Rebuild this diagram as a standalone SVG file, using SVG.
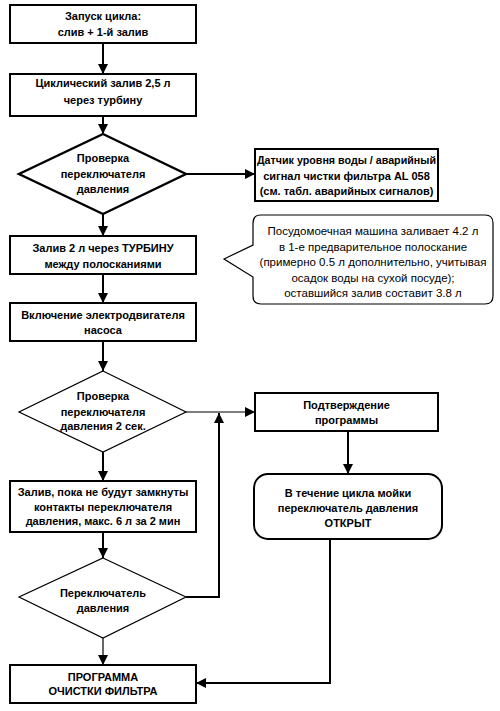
<svg xmlns="http://www.w3.org/2000/svg" width="500" height="711" viewBox="0 0 500 711">
<defs>
<marker id="ah" markerWidth="10" markerHeight="10" refX="10" refY="5" orient="auto" markerUnits="userSpaceOnUse">
<path d="M0,0 L10,5 L0,10 Z" fill="#000"/>
</marker>
<style>
.box{fill:#fff;stroke:#000;stroke-width:2}
.thin{fill:#fff;stroke:#000;stroke-width:1.2}
.thick{fill:#fff;stroke:#000;stroke-width:2.4}
.t{font-family:"Liberation Sans",Arial,sans-serif;font-size:11px;font-weight:bold;text-anchor:middle;fill:#000}
.r{font-family:"Liberation Sans",Arial,sans-serif;font-size:11.5px;text-anchor:middle;fill:#000}
.c{fill:none;stroke:#000;stroke-width:2}
.c1{fill:none;stroke:#000;stroke-width:1.2}
</style>
</defs>
<rect width="500" height="711" fill="#fff"/>
<g id="connectors">
<line class="c" x1="103" y1="43" x2="103" y2="74" marker-end="url(#ah)"/>
<line class="c" x1="103" y1="116" x2="103" y2="134" marker-end="url(#ah)"/>
<line class="c" x1="186" y1="174" x2="255" y2="174" marker-end="url(#ah)"/>
<line class="c" x1="103" y1="214" x2="103" y2="236" marker-end="url(#ah)"/>
<line class="c" x1="103" y1="274" x2="103" y2="303" marker-end="url(#ah)"/>
<line class="c" x1="103" y1="341" x2="103" y2="371" marker-end="url(#ah)"/>
<line class="c1" x1="186" y1="412" x2="255" y2="412" marker-end="url(#ah)"/>
<line class="c" x1="103" y1="452" x2="103" y2="481" marker-end="url(#ah)"/>
<line class="c" x1="103" y1="532" x2="103" y2="558" marker-end="url(#ah)"/>
<polyline class="c" points="186,597 219,597 219,413" marker-end="url(#ah)"/>
<line class="c1" x1="103" y1="638" x2="103" y2="665" marker-end="url(#ah)"/>
<line class="c" x1="348" y1="431" x2="348" y2="474" marker-end="url(#ah)"/>
<polyline class="c" points="330,539 330,683 196,683" marker-end="url(#ah)"/>
</g>
<g id="n1">
<rect class="box" x="10" y="5" width="186" height="38"/>
<text class="t" x="103" y="20">Запуск цикла:</text>
<text class="t" x="103" y="36">слив + 1-й залив</text>
</g>
<g id="n2">
<rect class="box" x="10" y="74" width="186" height="42"/>
<text class="t" x="103" y="87">Циклический залив 2,5 л</text>
<text class="t" x="103" y="104">через турбину</text>
</g>
<g id="n3">
<polygon class="thick" points="103,134 186,174 103,214 19,174"/>
<text class="t" x="103" y="162">Проверка</text>
<text class="t" x="103" y="178">переключателя</text>
<text class="t" x="103" y="193">давления</text>
</g>
<g id="n4">
<rect class="box" x="255" y="149" width="183" height="52"/>
<text class="t" x="346.5" y="164" textLength="179" lengthAdjust="spacingAndGlyphs">Датчик уровня воды / аварийный</text>
<text class="t" x="346.5" y="180">сигнал чистки фильтра AL 058</text>
<text class="t" x="346.5" y="195">(см. табл. аварийных сигналов)</text>
</g>
<g id="n5">
<path class="thin" d="M261,215 H485 Q493,215 493,223 V296 Q493,304 485,304 H261 Q253,304 253,296 V277 L224,259 L253,245 V223 Q253,215 261,215 Z"/>
<text class="r" x="373" y="235">Посудомоечная машина заливает 4.2 л</text>
<text class="r" x="373" y="251">в 1-е предварительное полоскание</text>
<text class="r" x="373" y="266">(примерно 0.5 л дополнительно, учитывая</text>
<text class="r" x="373" y="282">осадок воды на сухой посуде);</text>
<text class="r" x="373" y="297">оставшийся залив составит 3.8 л</text>
</g>
<g id="n6">
<rect class="box" x="10" y="236" width="186" height="38"/>
<text class="t" x="103" y="252">Залив 2 л через ТУРБИНУ</text>
<text class="t" x="103" y="268">между полосканиями</text>
</g>
<g id="n7">
<rect class="box" x="10" y="303" width="186" height="38"/>
<text class="t" x="103" y="319">Включение электродвигателя</text>
<text class="t" x="103" y="334">насоса</text>
</g>
<g id="n8">
<polygon class="thin" points="103,371 186,412 103,452 19,412"/>
<text class="t" x="103" y="400">Проверка</text>
<text class="t" x="103" y="416">переключателя</text>
<text class="t" x="103" y="430">давления 2 сек.</text>
</g>
<g id="n9">
<rect class="box" x="255" y="393" width="183" height="38"/>
<text class="t" x="346.5" y="409">Подтверждение</text>
<text class="t" x="346.5" y="424">программы</text>
</g>
<g id="n10">
<rect class="box" x="10" y="481" width="186" height="51"/>
<text class="t" x="103" y="496">Залив, пока не будут замкнуты</text>
<text class="t" x="103" y="511">контакты переключателя</text>
<text class="t" x="103" y="525">давления, макс. 6 л за 2 мин</text>
</g>
<g id="n11">
<rect class="box" x="254" y="474" width="188" height="65" rx="14" ry="14"/>
<text class="t" x="348" y="497">В течение цикла мойки</text>
<text class="t" x="348" y="512">переключатель давления</text>
<text class="t" x="348" y="527">ОТКРЫТ</text>
</g>
<g id="n12">
<polygon class="thin" points="103,558 186,597 103,638 19,597"/>
<text class="t" x="103" y="597">Переключатель</text>
<text class="t" x="103" y="612">давления</text>
</g>
<g id="n13">
<rect class="box" x="10" y="665" width="186" height="38"/>
<text class="t" x="103" y="681">ПРОГРАММА</text>
<text class="t" x="103" y="695">ОЧИСТКИ ФИЛЬТРА</text>
</g>
</svg>
